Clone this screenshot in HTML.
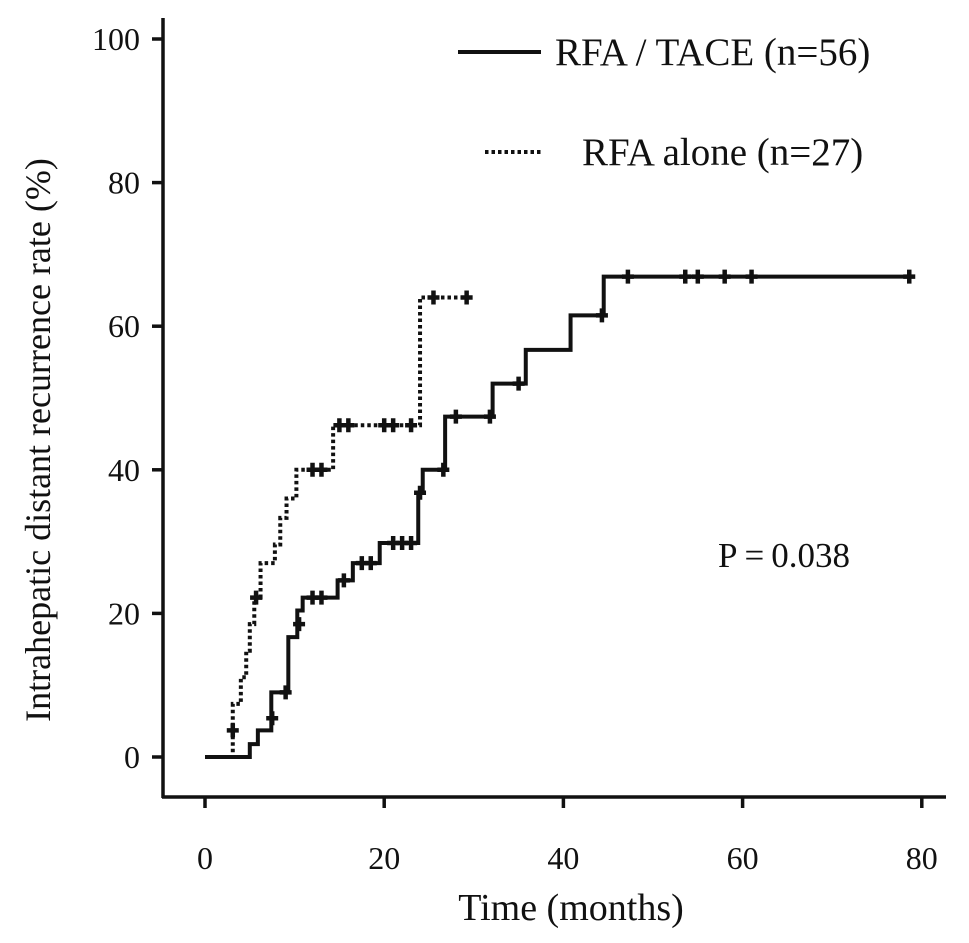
<!DOCTYPE html>
<html><head><meta charset="utf-8"><style>
body{margin:0;background:#fff}
svg text{font-family:"Liberation Serif",serif;fill:#111}
</style></head><body>
<svg id="c" width="969" height="938" xmlns="http://www.w3.org/2000/svg"></svg>
<script>
const xTicks=[0,20,40,60,80];
const yTicks=[0,20,40,60,80,100];
const tacTimes=[0,5.0,5.9,7.4,9.3,10.3,10.9,14.8,16.5,19.5,23.8,24.3,26.8,32.1,35.8,40.8,44.5];
const tacVals=[0,1.8,3.7,9,16.7,20.4,22.2,24.6,27,29.8,36.8,40,47.4,52,56.7,61.5,66.9];
const tacEnd=78.6;
const tacCensT=[7.5,9,10.5,12,13,15.5,17.5,18.5,21,22,23,24,26.6,28,31.8,35,44.3,47.2,53.6,55,58,61,78.6];
const tacCensV=[5.4,9,18.5,22.2,22.2,24.6,27,27,29.8,29.8,29.8,36.8,40,47.4,47.4,52,61.5,66.9,66.9,66.9,66.9,66.9,66.9];
const rfaTimes=[0,3.1,4.0,4.6,5.0,5.5,6.2,7.8,8.4,9.1,10.2,14.3,24.0];
const rfaVals=[0,7.4,11.1,14.8,18.5,22.2,27,29.6,33.3,36,40,46.2,64];
const rfaEnd=29.2;
const rfaCensT=[3.1,5.7,12,13,15,16,20,21,23,25.5,29.2];
const rfaCensV=[3.7,22.2,40,40,46.2,46.2,46.2,46.2,46.2,64,64];
const X=t=>205+t*8.96, Y=v=>757-v*7.18;
const svg=document.getElementById('c');
function add(tag,attrs,name,text){const e=document.createElementNS('http://www.w3.org/2000/svg',tag);for(const k in attrs)e.setAttribute(k,attrs[k]);


if(text!==undefined)e.textContent=text;svg.appendChild(e);return e;}
add('line',{x1:163,y1:18,x2:163,y2:798,stroke:'#111','stroke-width':3.5},'y-axis');
add('line',{x1:162,y1:797,x2:946,y2:797,stroke:'#111','stroke-width':3.5},'x-axis');
yTicks.forEach(v=>{add('line',{x1:152,y1:Y(v),x2:163,y2:Y(v),stroke:'#111','stroke-width':3.5},'y-tick');
add('text',{x:140,y:Y(v)+11,'font-size':32,'text-anchor':'end'},'y-tick-label',v);});
xTicks.forEach(t=>{add('line',{x1:X(t),y1:797,x2:X(t),y2:808,stroke:'#111','stroke-width':3.5},'x-tick');
add('text',{x:X(t),y:869,'font-size':32,'text-anchor':'middle'},'x-tick-label',t);});
add('text',{x:571,y:920,'font-size':38,'text-anchor':'middle'},'x-axis-title','Time (months)');
add('text',{x:0,y:0,'font-size':36,'text-anchor':'middle',transform:'translate(50,440) rotate(-90)'},'y-axis-title','Intrahepatic distant recurrence rate (%)');
function stepPath(ts,vs,end){let d='M'+X(ts[0])+','+Y(vs[0]);for(let i=1;i<ts.length;i++){d+=' H'+X(ts[i])+' V'+Y(vs[i]);}d+=' H'+X(end);return d;}
add('path',{d:stepPath(tacTimes,tacVals,tacEnd),fill:'none',stroke:'#111','stroke-width':4},'rfa-tace-curve');
add('path',{d:stepPath(rfaTimes,rfaVals,rfaEnd),fill:'none',stroke:'#111','stroke-width':4,'stroke-dasharray':'3.5,3'},'rfa-alone-curve');
function cens(ts,vs,name){ts.forEach((t,i)=>{add('path',{d:`M${X(t)},${Y(vs[i])-7}V${Y(vs[i])+7}M${X(t)-6},${Y(vs[i])}H${X(t)+6}`,stroke:'#111','stroke-width':4.5},name);});}
cens(tacCensT,tacCensV,'rfa-tace-censor');
cens(rfaCensT,rfaCensV,'rfa-alone-censor');
add('line',{x1:458,y1:52,x2:541,y2:52,stroke:'#111','stroke-width':4},'legend-line-rfa-tace');
add('text',{x:555,y:65,'font-size':39},'legend-label-rfa-tace','RFA / TACE (n=56)');
add('line',{x1:485,y1:152,x2:541,y2:152,stroke:'#111','stroke-width':4,'stroke-dasharray':'3.5,3'},'legend-line-rfa-alone');
add('text',{x:582,y:165,'font-size':39},'legend-label-rfa-alone','RFA alone (n=27)');
add('text',{x:718,y:567,'font-size':35},'p-value','P\u2009=\u20090.038');
</script>
</body></html>
